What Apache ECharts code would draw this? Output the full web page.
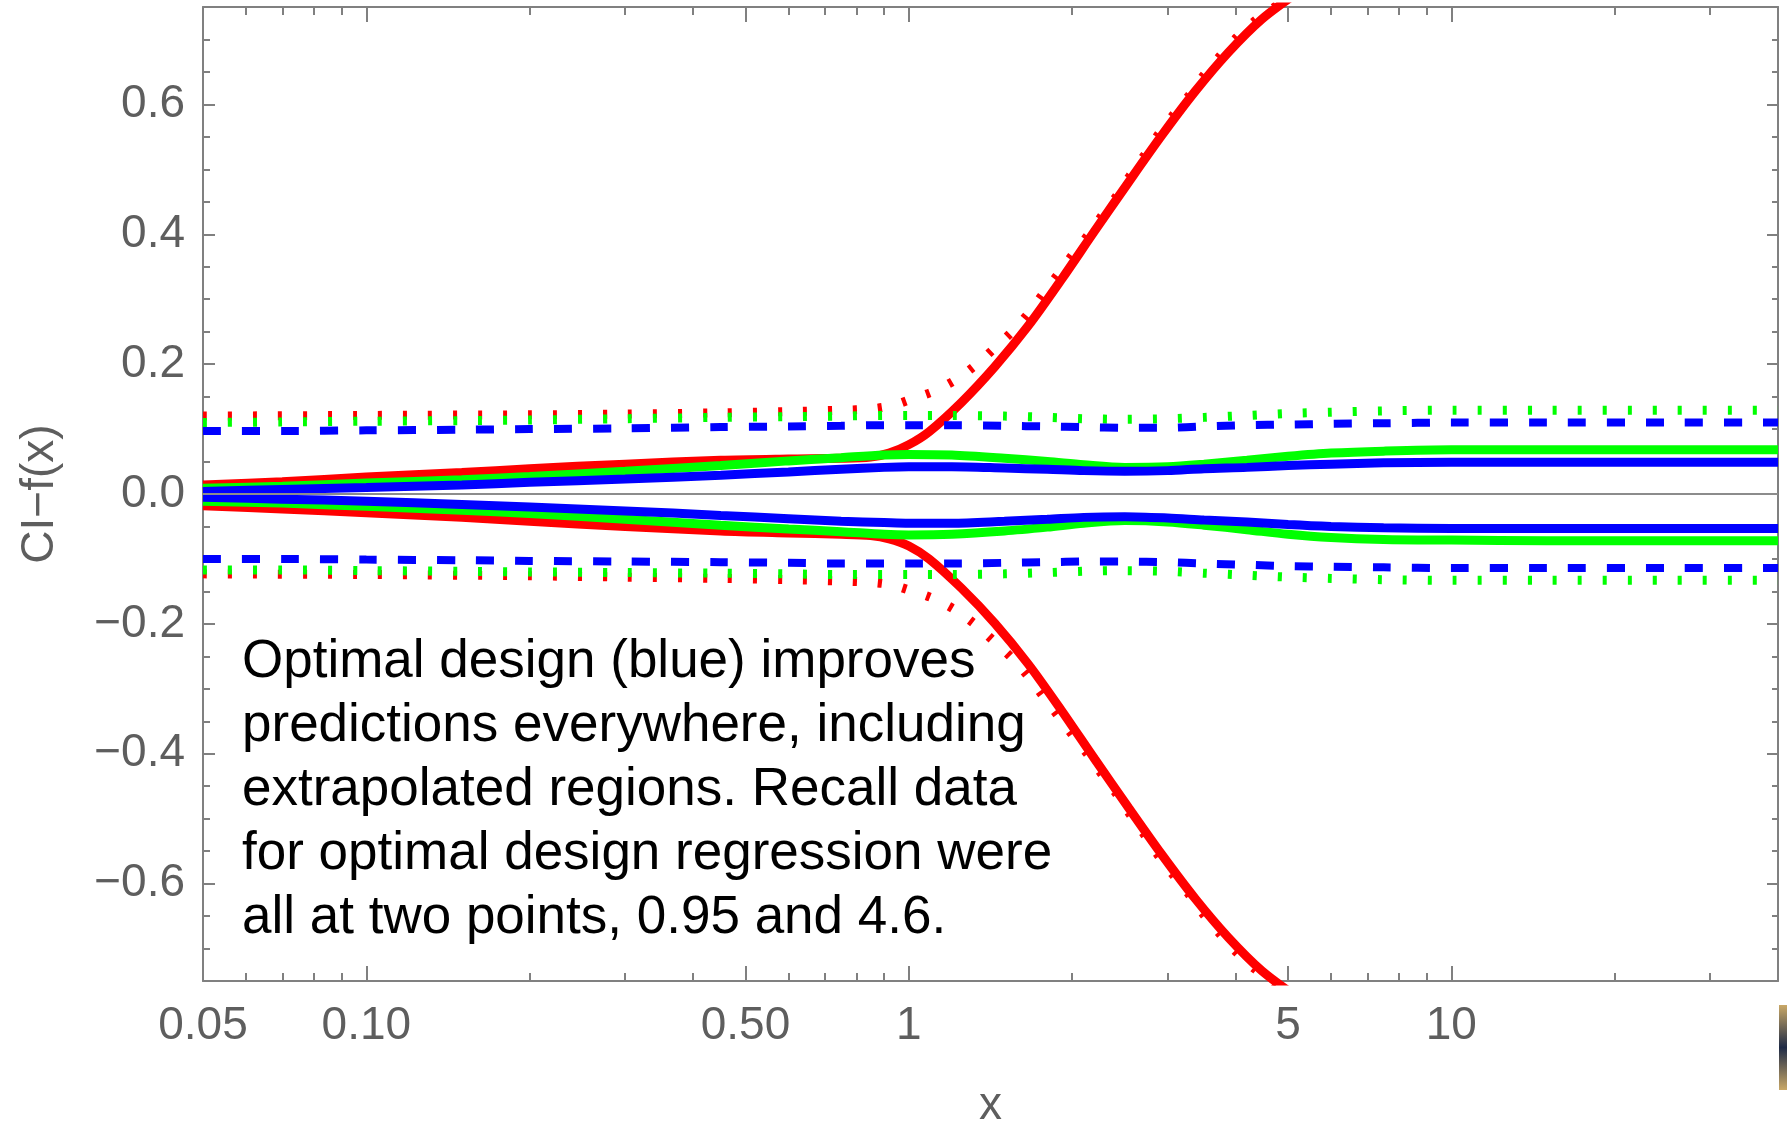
<!DOCTYPE html>
<html>
<head>
<meta charset="utf-8">
<title>CI - f(x)</title>
<script src="https://cdn.jsdelivr.net/npm/echarts@6/dist/echarts.min.js"></script>
<style>
  html, body { margin: 0; padding: 0; background: #fff; }
  #main { width: 1787px; height: 1121px; }
</style>
</head>
<body>
<div id="main"></div>
<script>
// x grid shared by the green / blue curves
var xs = [0.05, 0.07, 0.1, 0.15, 0.2, 0.3, 0.45, 0.6, 0.75, 0.9, 1.0, 1.2, 1.5, 1.8, 2.1, 2.5, 3.0, 3.5, 4.2, 5, 6, 7.5, 10, 15, 25, 40];

var greenUp = [0.009, 0.012, 0.017, 0.022, 0.027, 0.035, 0.044, 0.051, 0.056, 0.060, 0.061, 0.060, 0.055, 0.050, 0.045, 0.041, 0.042, 0.046, 0.052, 0.058, 0.063, 0.066, 0.068, 0.068, 0.068, 0.068];
var greenLo = [-0.011, -0.014, -0.019, -0.025, -0.030, -0.039, -0.048, -0.054, -0.058, -0.062, -0.063, -0.062, -0.057, -0.051, -0.045, -0.041, -0.043, -0.048, -0.055, -0.062, -0.067, -0.070, -0.071, -0.072, -0.072, -0.072];
var blueUp = [0.004, 0.007, 0.010, 0.014, 0.018, 0.023, 0.029, 0.034, 0.038, 0.041, 0.042, 0.042, 0.040, 0.038, 0.036, 0.035, 0.036, 0.039, 0.041, 0.044, 0.046, 0.048, 0.049, 0.049, 0.049, 0.049];
var blueLo = [-0.005, -0.008, -0.011, -0.016, -0.020, -0.026, -0.033, -0.038, -0.042, -0.044, -0.045, -0.045, -0.042, -0.039, -0.036, -0.035, -0.037, -0.040, -0.043, -0.047, -0.050, -0.052, -0.053, -0.053, -0.053, -0.053];
var blueDashUp = [0.097, 0.097, 0.098, 0.099, 0.100, 0.101, 0.103, 0.104, 0.105, 0.106, 0.106, 0.106, 0.105, 0.104, 0.103, 0.102, 0.102, 0.104, 0.106, 0.107, 0.108, 0.109, 0.110, 0.110, 0.110, 0.110];
var blueDashLo = [-0.100, -0.100, -0.101, -0.102, -0.103, -0.104, -0.105, -0.106, -0.107, -0.107, -0.107, -0.107, -0.106, -0.105, -0.104, -0.104, -0.105, -0.107, -0.109, -0.111, -0.112, -0.113, -0.114, -0.114, -0.114, -0.114];
var greenDotUp = [0.110, 0.111, 0.112, 0.113, 0.114, 0.116, 0.118, 0.119, 0.120, 0.121, 0.121, 0.121, 0.120, 0.118, 0.116, 0.115, 0.116, 0.118, 0.121, 0.124, 0.126, 0.128, 0.129, 0.129, 0.129, 0.129];
var greenDotLo = [-0.117, -0.117, -0.118, -0.119, -0.120, -0.121, -0.122, -0.123, -0.124, -0.124, -0.124, -0.124, -0.123, -0.121, -0.119, -0.118, -0.119, -0.122, -0.125, -0.128, -0.130, -0.132, -0.133, -0.133, -0.133, -0.133];

// red solid: blows up past x ~ 1
var redX = [0.05, 0.07, 0.1, 0.15, 0.2, 0.3, 0.45, 0.6, 0.75, 0.85, 0.92, 1.0, 1.09, 1.25, 1.44, 1.66, 1.91, 2.2, 2.54, 2.93, 3.37, 3.88, 4.47, 5.2];
var redUp = [0.014, 0.019, 0.026, 0.033, 0.039, 0.046, 0.052, 0.054, 0.055, 0.057, 0.063, 0.076, 0.096, 0.141, 0.196, 0.259, 0.330, 0.405, 0.480, 0.553, 0.620, 0.680, 0.731, 0.772];
var redLo = [-0.018, -0.023, -0.029, -0.036, -0.042, -0.050, -0.057, -0.060, -0.062, -0.064, -0.069, -0.080, -0.100, -0.145, -0.199, -0.262, -0.333, -0.408, -0.483, -0.556, -0.623, -0.683, -0.734, -0.775];

// red dotted
var redDotX = [0.05, 0.1, 0.2, 0.3, 0.45, 0.6, 0.75, 0.85, 0.93, 1.01, 1.11, 1.22, 1.33, 1.44, 1.55, 1.66, 1.77, 1.89, 2.01, 2.15, 2.27, 2.42, 2.56, 2.73, 2.89, 3.08, 3.28, 3.49, 3.75, 4.02, 4.35, 4.76, 5.2];
var redDotUp = [0.120, 0.121, 0.122, 0.123, 0.125, 0.127, 0.129, 0.131, 0.136, 0.146, 0.158, 0.176, 0.199, 0.225, 0.250, 0.278, 0.309, 0.340, 0.370, 0.401, 0.429, 0.460, 0.491, 0.524, 0.555, 0.585, 0.613, 0.644, 0.675, 0.703, 0.729, 0.752, 0.775];
var redDotLo = [-0.123, -0.124, -0.126, -0.128, -0.130, -0.132, -0.134, -0.136, -0.140, -0.149, -0.161, -0.179, -0.202, -0.228, -0.253, -0.281, -0.312, -0.343, -0.373, -0.404, -0.432, -0.463, -0.494, -0.527, -0.558, -0.588, -0.616, -0.647, -0.678, -0.706, -0.732, -0.755, -0.778];

// ticks
var xLabels = [0.05, 0.1, 0.5, 1, 5, 10];
var xMajor = [0.1, 0.5, 1, 5, 10];
var xMinor = [0.06, 0.07, 0.08, 0.09, 0.2, 0.3, 0.4, 0.6, 0.7, 0.8, 0.9, 2, 3, 4, 6, 7, 8, 9, 20, 30];
var yMajor = [-0.6, -0.4, -0.2, 0, 0.2, 0.4, 0.6];
var yMinor = [-0.7, -0.65, -0.55, -0.5, -0.45, -0.35, -0.3, -0.25, -0.15, -0.1, -0.05,
              0.05, 0.1, 0.15, 0.25, 0.3, 0.35, 0.45, 0.5, 0.55, 0.65, 0.7];

var note = 'Optimal design (blue) improves\npredictions everywhere, including\nextrapolated regions. Recall data\nfor optimal design regression were\nall at two points, 0.95 and 4.6.';

var FONT = '"Liberation Sans", Arial, sans-serif';
var axisGray = '#808080';
var labelGray = '#5e5e5e';
var RED = '#ff0000', GREEN = '#00ff00', BLUE = '#0000ff';

function pairs(xArr, yArr) {
  return xArr.map(function (x, i) { return [x, yArr[i]]; });
}

function curve(xArr, yArr, color, dash, width) {
  return {
    type: 'line',
    data: pairs(xArr, yArr),
    showSymbol: false,
    smooth: 0.3,
    silent: true,
    z: 2,
    lineStyle: { color: color, width: width, type: dash, cap: 'butt' }
  };
}

function xAx(pos, ticks, len, main) {
  return {
    type: 'log', logBase: 10, min: 0.05, max: 40, position: pos,
    axisLine: { show: main, onZero: false, lineStyle: { color: axisGray, width: 2 } },
    axisTick: { show: true, inside: true, length: len, customValues: ticks,
                lineStyle: { color: axisGray, width: 2 } },
    axisLabel: { show: false },
    splitLine: { show: false }
  };
}

function yAx(pos, ticks, len, main) {
  return {
    type: 'value', min: -0.75, max: 0.75, position: pos,
    axisLine: { show: main, onZero: false, lineStyle: { color: axisGray, width: 2 } },
    axisTick: { show: true, inside: true, length: len, customValues: ticks,
                lineStyle: { color: axisGray, width: 2 } },
    axisLabel: { show: false },
    splitLine: { show: false }
  };
}

var xBottom = xAx('bottom', xMajor, 15, true);
xBottom.axisLabel = {
  show: true, customValues: xLabels, margin: 22,
  fontSize: 46, fontFamily: FONT, color: labelGray,
  formatter: function (v) { return v < 1 ? v.toFixed(2) : String(Math.round(v)); }
};
xBottom.name = 'x';
xBottom.nameLocation = 'middle';
xBottom.nameGap = 102;
xBottom.nameTextStyle = { fontSize: 46, fontFamily: FONT, color: labelGray };

var yLeft = yAx('left', yMajor, 12, true);
yLeft.axisLabel = {
  show: true, customValues: yMajor, margin: 18,
  fontSize: 46, fontFamily: FONT, color: labelGray,
  formatter: function (v) {
    var s = Math.abs(v).toFixed(1);
    return v < -1e-9 ? '\u2212' + s : s;
  }
};
yLeft.name = 'CI\u2212f(x)';
yLeft.nameLocation = 'middle';
yLeft.nameGap = 140;
yLeft.nameTextStyle = { fontSize: 46, fontFamily: FONT, color: labelGray };

var myChart = echarts.init(document.getElementById('main'));

var option = {
  animation: false,
  backgroundColor: '#ffffff',
  grid: { left: 203, right: 9, top: 7, bottom: 140, containLabel: false, outerBoundsMode: 'none' },
  xAxis: [
    xBottom,
    xAx('bottom', xMinor, 8, false),
    xAx('top', xMajor, 15, true),
    xAx('top', xMinor, 8, false)
  ],
  yAxis: [
    yLeft,
    yAx('left', yMinor, 7, false),
    yAx('right', yMajor, 11, true),
    yAx('right', yMinor, 6, false)
  ],
  series: [
    curve(redX, redUp, RED, 'solid', 9),
    curve(redX, redLo, RED, 'solid', 9),
    curve(xs, greenUp, GREEN, 'solid', 9),
    curve(xs, greenLo, GREEN, 'solid', 9),
    curve(xs, blueUp, BLUE, 'solid', 9),
    curve(xs, blueLo, BLUE, 'solid', 9),
    curve(redDotX, redDotUp, RED, [4, 21], 9),
    curve(redDotX, redDotLo, RED, [4, 21], 9),
    curve(xs, greenDotUp, GREEN, [4, 21], 9),
    curve(xs, greenDotLo, GREEN, [4, 21], 9),
    curve(xs, blueDashUp, BLUE, [18, 21], 8),
    curve(xs, blueDashLo, BLUE, [18, 21], 8),
    {
      // zero axis, drawn in front like the original
      type: 'line', data: [], z: 5, silent: true,
      markLine: {
        silent: true, symbol: 'none', label: { show: false },
        lineStyle: { color: '#8c8c8c', width: 2, type: 'solid' },
        data: [{ yAxis: 0 }]
      }
    }
  ],
  graphic: [
    {
      type: 'text', left: 242, top: 630, z: 10,
      style: { text: note, font: '53px ' + FONT, lineHeight: 64, fill: '#000000' }
    },
    {
      type: 'rect', right: 0, top: 1005, z: 10,
      shape: { width: 8, height: 85 },
      style: {
        fill: new echarts.graphic.LinearGradient(0, 0, 0, 1, [
          { offset: 0, color: '#c9a867' },
          { offset: 0.5, color: '#1f2b46' },
          { offset: 1, color: '#c9a867' }
        ])
      }
    }
  ]
};

myChart.setOption(option);
</script>
</body>
</html>
